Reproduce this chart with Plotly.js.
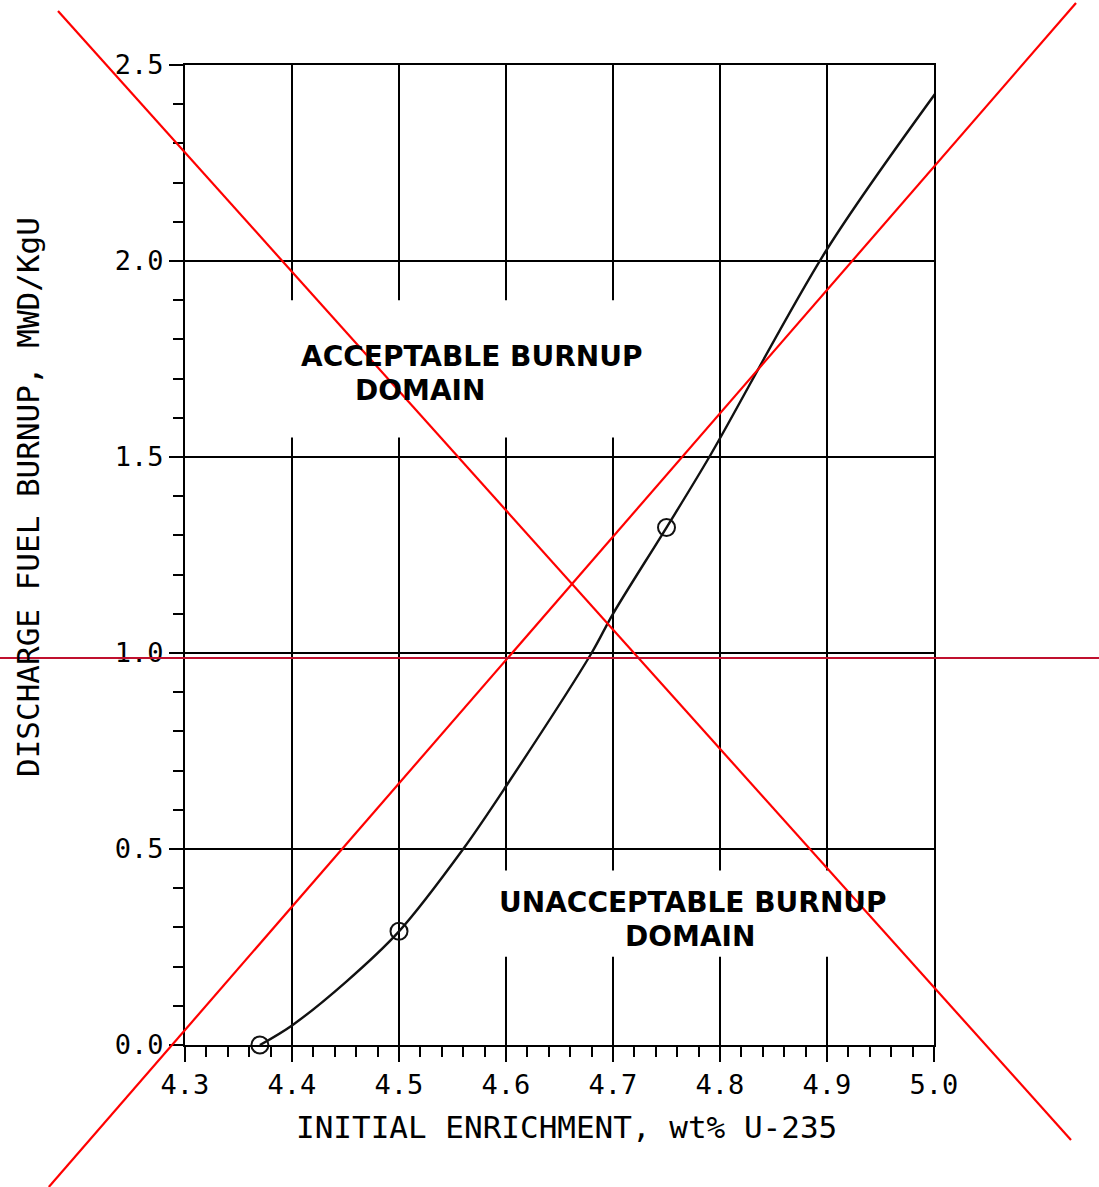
<!DOCTYPE html>
<html>
<head>
<meta charset="utf-8">
<script src="https://cdn.plot.ly/plotly-3.0.1.min.js"></script>
<style>html,body{margin:0;padding:0;background:#fff;}#chart{width:1099px;height:1187px;}</style>
</head>
<body>
<div id="chart"></div>
<script>
// Curve
const curveEnrichment = [4.37, 4.40, 4.45, 4.50, 4.56, 4.60, 4.68, 4.70, 4.75, 4.79, 4.90, 5.01];
const curveBurnup     = [0.00, 0.05, 0.16, 0.29, 0.50, 0.66, 1.00, 1.10, 1.32, 1.50, 2.03, 2.46];
// Circled calculated points
const pointEnrichment = [4.37, 4.50, 4.75, 5.01];
const pointBurnup     = [0.00, 0.29, 1.32, 2.46];
// Axis ticks
const xTickValues = [4.3, 4.4, 4.5, 4.6, 4.7, 4.8, 4.9, 5.0];
const yTickValues = [0.0, 0.5, 1.0, 1.5, 2.0, 2.5];
// Region labels
const regionLabels = ["ACCEPTABLE BURNUP", "DOMAIN", "UNACCEPTABLE BURNUP", "DOMAIN"];
const xTitle = "INITIAL ENRICHMENT, wt% U-235";
const yTitle = "DISCHARGE FUEL BURNUP, MWD/KgU";

const W = 1099, H = 1187;
const M = {l: 185, r: 165, t: 65, b: 142};
const PW = W - M.l - M.r, PH = H - M.t - M.b;
const px = x => (x - M.l) / PW;
const py = y => (M.t + PH - y) / PH;

const mono = "DejaVu Sans Mono, Liberation Mono, monospace";
const bold = "DejaVu Sans, Liberation Sans, Arial, sans-serif";

const traces = [
  {x: curveEnrichment, y: curveBurnup, mode: "lines", type: "scatter",
   line: {color: "#111", width: 2.4, shape: "spline", smoothing: 0.9},
   hoverinfo: "skip"},
  {x: pointEnrichment, y: pointBurnup, mode: "markers", type: "scatter",
   marker: {symbol: "circle-open", size: 17, color: "#111", line: {width: 2, color: "#111"}},
   cliponaxis: false}
];

const shapes = [
  // blank boxes behind the region labels (cut the vertical grid lines)
  {type: "rect", xref: "x", yref: "y", x0: 4.37, x1: 4.75, y0: 1.55, y1: 1.90,
   fillcolor: "#fff", line: {width: 0}, layer: "between"},
  {type: "rect", xref: "x", yref: "y", x0: 4.57, x1: 4.95, y0: 0.225, y1: 0.445,
   fillcolor: "#fff", line: {width: 0}, layer: "between"},
  // red overlay cross
  {type: "line", xref: "paper", yref: "paper", x0: px(58), y0: py(11), x1: px(1071), y1: py(1140),
   line: {color: "#ff0000", width: 2.2}, layer: "above"},
  {type: "line", xref: "paper", yref: "paper", x0: px(1076), y0: py(3), x1: px(48.8), y1: py(1187),
   line: {color: "#ff0000", width: 2.2}, layer: "above"},
  {type: "line", xref: "paper", yref: "paper", x0: px(0), y0: py(658), x1: px(1099), y1: py(658),
   line: {color: "#c0102e", width: 1.8}, layer: "above"}
];

function ann(text, x, y, font, extra) {
  return Object.assign({text: text, x: px(x), y: py(y), xref: "paper", yref: "paper",
    xanchor: "center", yanchor: "middle", showarrow: false, font: font}, extra || {});
}
const labelFont = {family: bold, size: 28, color: "#000", weight: "bold"};
const titleFont = {family: mono, size: 31, color: "#000"};

const annotations = [
  ann(regionLabels[0], 471, 356, labelFont),
  ann(regionLabels[1], 420, 390, labelFont),
  ann(regionLabels[2], 693, 902, labelFont),
  ann(regionLabels[3], 690, 936, labelFont),
  ann(xTitle, 566, 1127, titleFont),
  ann(yTitle, 28, 497, titleFont, {textangle: -90})
];

const axisCommon = {
  showline: true, mirror: true, linecolor: "#000", linewidth: 2,
  showgrid: true, gridcolor: "#000", gridwidth: 2, zeroline: false,
  ticks: "outside", tickcolor: "#000", tickwidth: 2,
  tickfont: {family: mono, size: 27, color: "#000"},
  tickformat: ".1f", tickmode: "array", fixedrange: true
};

const layout = {
  width: W, height: H, margin: M,
  paper_bgcolor: "#fff", plot_bgcolor: "#fff",
  showlegend: false,
  xaxis: Object.assign({}, axisCommon, {
    range: [4.3, 5.0], tickvals: xTickValues, ticklen: 15,
    minor: {dtick: 0.02, tick0: 4.3, ticks: "outside", ticklen: 10, tickwidth: 2, tickcolor: "#000", showgrid: false}
  }),
  yaxis: Object.assign({}, axisCommon, {
    range: [0, 2.5], tickvals: yTickValues, ticklen: 14,
    minor: {dtick: 0.1, tick0: 0, ticks: "outside", ticklen: 10, tickwidth: 2, tickcolor: "#000", showgrid: false}
  }),
  shapes: shapes, annotations: annotations
};

Plotly.newPlot("chart", traces, layout, {displayModeBar: false, staticPlot: true});
</script>
</body>
</html>
